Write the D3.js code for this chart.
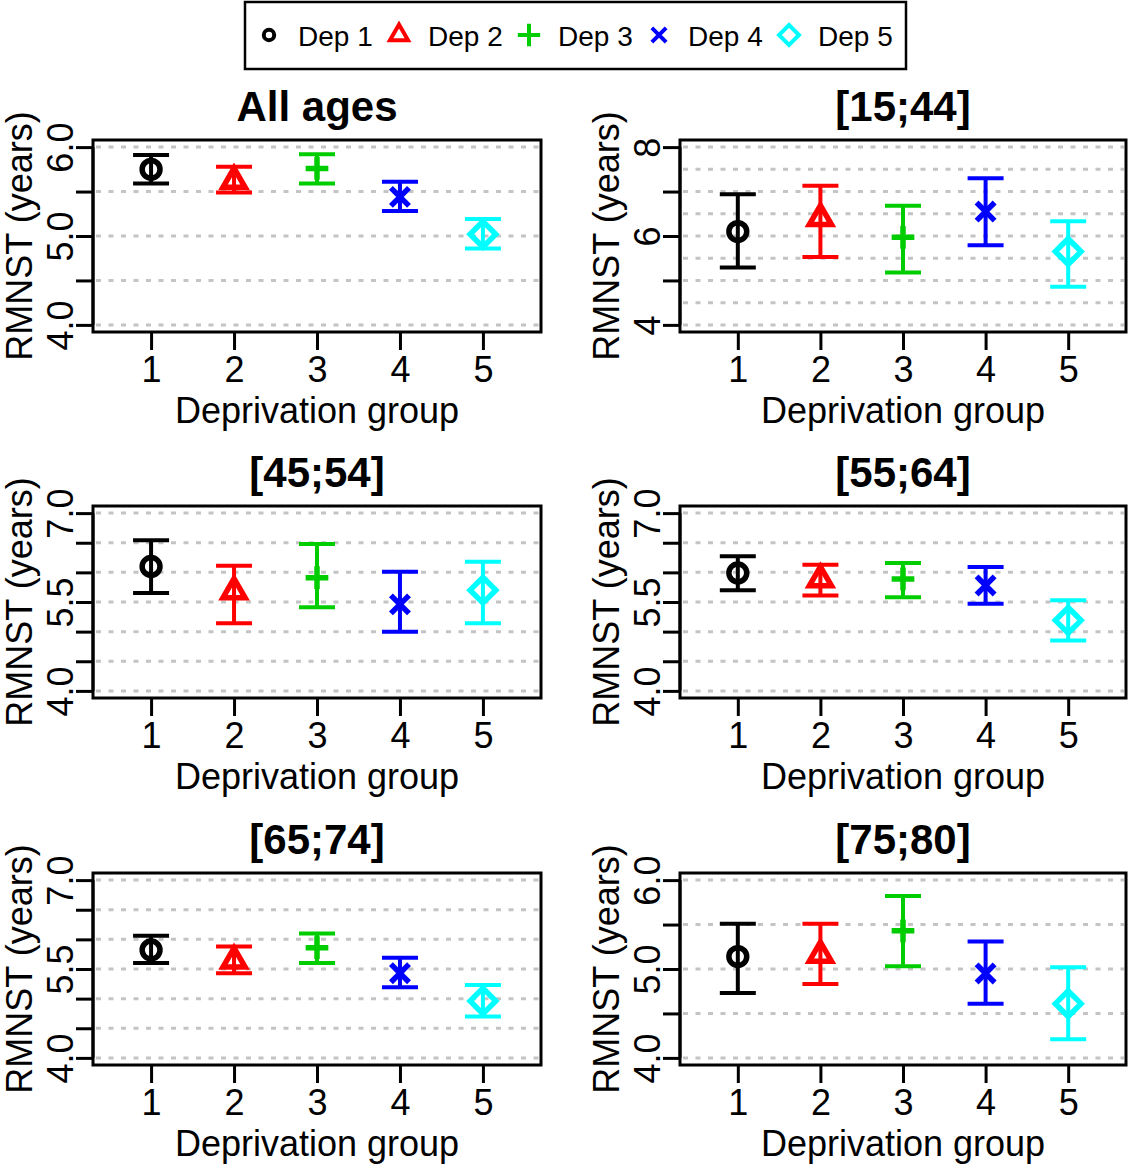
<!DOCTYPE html>
<html>
<head>
<meta charset="utf-8">
<script src="https://cdn.jsdelivr.net/npm/d3@7"></script>
<style>
    html, body { margin: 0; padding: 0; background: #fff; }
    svg { display: block; font-family: 'Liberation Sans', Arial, sans-serif; }
</style>
</head>
<body>
<div id="chart"></div>
<script>
const groups = [1, 2, 3, 4, 5]
const depNames = ['Dep 1', 'Dep 2', 'Dep 3', 'Dep 4', 'Dep 5']
const depColors = ['#000000', '#FF0000', '#00CD00', '#0000FF', '#00FFFF']
const depShapes = ['circle', 'triangle', 'plus', 'times', 'diamond']

const panelTitles = ['All ages', '[15;44]', '[45;54]', '[55;64]', '[65;74]', '[75;80]']
const yDomains = [[4, 6], [4, 8], [4, 7], [4, 7], [4, 7], [4, 6]]
const yTicks = [
    [4, 4.5, 5, 5.5, 6],
    [4, 5, 6, 7, 8],
    [4, 4.5, 5, 5.5, 6, 6.5, 7],
    [4, 4.5, 5, 5.5, 6, 6.5, 7],
    [4, 4.5, 5, 5.5, 6, 6.5, 7],
    [4, 4.5, 5, 5.5, 6],
]
const yTickLabels = [
    ['4.0', '', '5.0', '', '6.0'],
    ['4', '', '6', '', '8'],
    ['4.0', '', '', '5.5', '', '', '7.0'],
    ['4.0', '', '', '5.5', '', '', '7.0'],
    ['4.0', '', '', '5.5', '', '', '7.0'],
    ['4.0', '', '5.0', '', '6.0'],
]
const gridLines = [
    [4, 4.5, 5, 5.5, 6],
    [4, 4.5, 5, 5.5, 6, 6.5, 7, 7.5, 8],
    [4, 4.5, 5, 5.5, 6, 6.5, 7],
    [4, 4.5, 5, 5.5, 6, 6.5, 7],
    [4, 4.5, 5, 5.5, 6, 6.5, 7],
    [4, 4.5, 5, 5.5, 6],
]

// RMNST estimates and 95% CI, one row per panel, one value per deprivation group
const rmnst = [
    [5.75, 5.62, 5.76, 5.44, 5.02],
    [6.10, 6.40, 5.97, 6.55, 5.65],
    [6.10, 5.68, 5.91, 5.46, 5.70],
    [5.99, 5.88, 5.89, 5.78, 5.19],
    [5.82, 5.64, 5.86, 5.43, 4.96],
    [5.14, 5.16, 5.43, 4.95, 4.61],
]
const lower = [
    [5.59, 5.49, 5.59, 5.28, 4.86],
    [5.29, 5.53, 5.18, 5.79, 4.86],
    [5.65, 5.14, 5.41, 5.00, 5.14],
    [5.70, 5.61, 5.58, 5.47, 4.85],
    [5.60, 5.43, 5.60, 5.19, 4.70],
    [4.73, 4.83, 5.03, 4.61, 4.21],
]
const upper = [
    [5.91, 5.78, 5.92, 5.61, 5.19],
    [6.94, 7.13, 6.68, 7.30, 6.33],
    [6.54, 6.11, 6.48, 6.01, 6.18],
    [6.27, 6.13, 6.16, 6.09, 5.53],
    [6.06, 5.88, 6.10, 5.69, 5.23],
    [5.51, 5.51, 5.82, 5.31, 5.02],
]

const width = 1128
const height = 1168
const colLeft = [93, 680]
const colRight = [541, 1126]
const rowTop = [140, 506, 873]
const boxHeight = 192

const symbolTypes = {
    circle: d3.symbolCircle,
    triangle: d3.symbolTriangle2,
    plus: d3.symbolPlus,
    times: d3.symbolTimes,
    diamond: d3.symbolDiamond2,
}
const markerSizes = { circle: 250, triangle: 350, plus: 170, times: 215, diamond: 420 }
const legendSizes = { circle: 85, triangle: 235, plus: 165, times: 135, diamond: 255 }

function _expand(domain) {
    const pad = (domain[1] - domain[0]) * 0.04
    return [domain[0] - pad, domain[1] + pad]
}

const svg = d3.select('#chart').append('svg')
    .attr('width', width)
    .attr('height', height)

function _renderPanel(p) {
    const col = p % 2
    const row = Math.floor(p / 2)
    const x0 = colLeft[col]
    const x1 = colRight[col]
    const top = rowTop[row]
    const bottom = top + boxHeight

    const x = d3.scaleLinear().domain(_expand([0.5, 5.5])).range([x0, x1])
    const y = d3.scaleLinear().domain(_expand(yDomains[p])).range([bottom, top])

    const g = svg.append('g').attr('class', 'panel')

    // dashed grid
    g.append('g').selectAll('line')
        .data(gridLines[p])
        .enter().append('line')
            .attr('x1', x0 + 3).attr('x2', x1 - 2)
            .attr('y1', d => y(d)).attr('y2', d => y(d))
            .attr('stroke', '#c4c4c4')
            .attr('stroke-width', 3)
            .attr('stroke-dasharray', '5 7.5')

    // y axis
    const yAxis = d3.axisLeft(y)
        .tickValues(yTicks[p])
        .tickSize(17)
        .tickFormat((d, i) => yTickLabels[p][i])
    const ya = g.append('g')
        .attr('transform', `translate(${x0},0)`)
        .call(yAxis)
    ya.select('.domain').remove()
    ya.append('line')
        .attr('x1', 0).attr('x2', 0)
        .attr('y1', y(yTicks[p][0])).attr('y2', y(yTicks[p][yTicks[p].length - 1]))
        .attr('stroke', '#000').attr('stroke-width', 3)
    ya.selectAll('.tick line').attr('stroke', '#000').attr('stroke-width', 3)
    ya.selectAll('.tick text')
        .attr('x', null).attr('dy', null)
        .attr('transform', 'translate(-20,0) rotate(-90)')
        .attr('text-anchor', 'middle')
        .attr('fill', '#000')
        .style('font-size', '36px')
        .style('font-family', "'Liberation Sans', Arial, sans-serif")

    // x axis
    const xAxis = d3.axisBottom(x)
        .tickValues(groups)
        .tickSize(18)
        .tickFormat(d3.format('d'))
    const xa = g.append('g')
        .attr('transform', `translate(0,${bottom})`)
        .call(xAxis)
    xa.select('.domain').remove()
    xa.selectAll('.tick line').attr('stroke', '#000').attr('stroke-width', 3)
    xa.selectAll('.tick text')
        .attr('y', 50).attr('dy', null)
        .attr('fill', '#000')
        .style('font-size', '36px')
        .style('font-family', "'Liberation Sans', Arial, sans-serif")

    // box
    g.append('rect')
        .attr('x', x0).attr('y', top)
        .attr('width', x1 - x0).attr('height', boxHeight)
        .attr('fill', 'none')
        .attr('stroke', '#000')
        .attr('stroke-width', 3)

    // titles
    g.append('text')
        .attr('x', (x0 + x1) / 2).attr('y', top - 19)
        .attr('text-anchor', 'middle')
        .style('font-size', '42px')
        .style('font-weight', 'bold')
        .text(panelTitles[p])
    g.append('text')
        .attr('x', (x0 + x1) / 2).attr('y', bottom + 91)
        .attr('text-anchor', 'middle')
        .style('font-size', '36px')
        .text('Deprivation group')
    g.append('text')
        .attr('transform', `translate(${x0 - 61},${(top + bottom) / 2}) rotate(-90)`)
        .attr('text-anchor', 'middle')
        .style('font-size', '36px')
        .text('RMNST (years)')

    // error bars
    const capHalf = 18
    const bars = g.append('g').selectAll('g')
        .data(groups.map((grp, i) => ({ grp, i, est: rmnst[p][i], lo: lower[p][i], hi: upper[p][i] })))
        .enter().append('g')
            .attr('stroke', d => depColors[d.i])
            .attr('stroke-width', 4)
            .attr('fill', 'none')
    bars.append('line')
        .attr('x1', d => x(d.grp)).attr('x2', d => x(d.grp))
        .attr('y1', d => y(d.lo)).attr('y2', d => y(d.hi))
    bars.append('line')
        .attr('x1', d => x(d.grp) - capHalf).attr('x2', d => x(d.grp) + capHalf)
        .attr('y1', d => y(d.lo)).attr('y2', d => y(d.lo))
    bars.append('line')
        .attr('x1', d => x(d.grp) - capHalf).attr('x2', d => x(d.grp) + capHalf)
        .attr('y1', d => y(d.hi)).attr('y2', d => y(d.hi))
    bars.append('path')
        .attr('transform', d => `translate(${x(d.grp)},${y(d.est)})`)
        .attr('stroke-width', 5.5)
        .attr('d', d => d3.symbol(symbolTypes[depShapes[d.i]], markerSizes[depShapes[d.i]])())
}

function _renderLegend() {
    const lg = svg.append('g').attr('class', 'legend')
    lg.append('rect')
        .attr('x', 245).attr('y', 2)
        .attr('width', 661).attr('height', 67)
        .attr('fill', '#fff')
        .attr('stroke', '#000')
        .attr('stroke-width', 2.5)
    const items = lg.selectAll('.item')
        .data(depNames)
        .enter().append('g')
            .attr('class', 'item')
            .attr('transform', (d, i) => `translate(${269 + i * 130},35)`)
    items.append('path')
        .attr('d', (d, i) => d3.symbol(symbolTypes[depShapes[i]], legendSizes[depShapes[i]])())
        .attr('fill', 'none')
        .attr('stroke', (d, i) => depColors[i])
        .attr('stroke-width', 4)
    items.append('text')
        .attr('x', 29).attr('y', 11)
        .style('font-size', '28px')
        .text(d => d)
}

panelTitles.forEach((t, p) => _renderPanel(p))
_renderLegend()
</script>
</body>
</html>
